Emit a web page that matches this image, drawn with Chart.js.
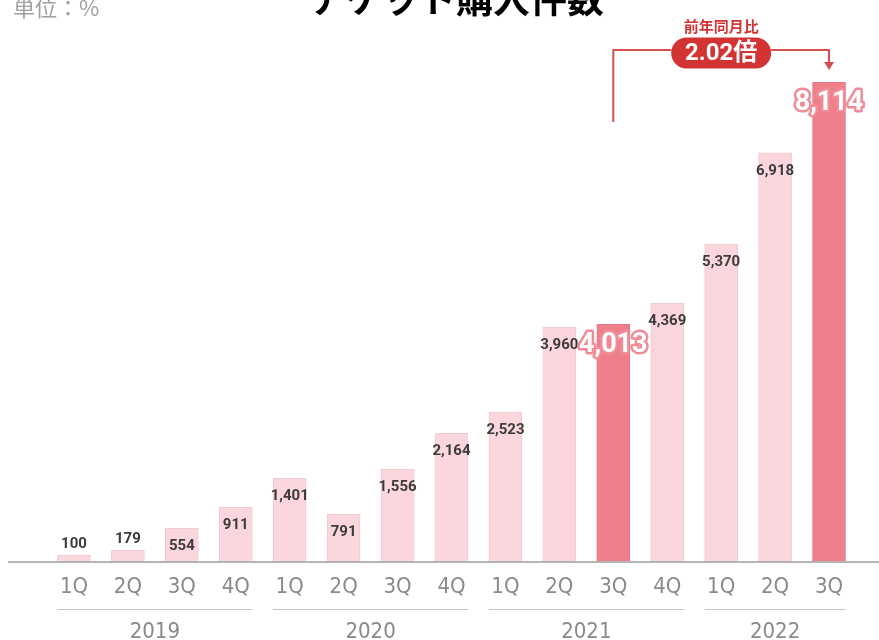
<!DOCTYPE html>
<html lang="ja">
<head>
<meta charset="utf-8">
<title>チケット購入件数</title>
<script src="https://cdn.jsdelivr.net/npm/chart.js@4/dist/chart.umd.min.js"></script>
<style>
  html, body { margin: 0; padding: 0; background: #fff; }
  #chart { display: block; }
</style>
</head>
<body>
<canvas id="chart" width="879" height="640"></canvas>
<script>
// 四半期ごとのチケット購入件数（2019年1Qを100とした指数）
const quarters = ['1Q', '2Q', '3Q', '4Q', '1Q', '2Q', '3Q', '4Q', '1Q', '2Q', '3Q', '4Q', '1Q', '2Q', '3Q'];
const years = ['2019', '2020', '2021', '2022'];
const yearStart = [0, 4, 8, 12];
const yearEnd = [3, 7, 11, 14];
const counts = [100, 179, 554, 911, 1401, 791, 1556, 2164, 2523, 3960, 4013, 4369, 5370, 6918, 8114];
const highlight = [10, 14];
const yoyLabel = '前年同月比';
const yoyValue = '2.02倍';

const LIGHT = 'rgb(251, 214, 221)';
const DARK = 'rgb(239, 127, 139)';
const TICK_FAMILY = '"Liberation Sans Narrow", "DejaVu Sans Condensed", Roboto, sans-serif';
const BAR_W = 33;

function fmt(v) {
    return v.toLocaleString('en-US');
}

// タイトル・単位・基準線・年の区切り・数値ラベル・前年比の矢印
const decorations = {
    id: 'decorations',
    beforeDatasetsDraw(chart) {
        const ctx = chart.ctx;
        const area = chart.chartArea;
        ctx.save();
        ctx.strokeStyle = '#b4b4b4';
        ctx.lineWidth = 2;
        ctx.beginPath();
        ctx.moveTo(8, area.bottom + 1);
        ctx.lineTo(chart.width, area.bottom + 1);
        ctx.stroke();
        ctx.restore();
    },
    afterDatasetsDraw(chart) {
        const ctx = chart.ctx;
        const area = chart.chartArea;
        const xs = chart.scales.x;
        const bars = chart.getDatasetMeta(0).data;

        ctx.save();

        // タイトル（上端で切れている）
        ctx.fillStyle = '#000';
        ctx.font = 'bold 37px "Noto Sans CJK JP", sans-serif';
        ctx.textAlign = 'center';
        ctx.textBaseline = 'alphabetic';
        ctx.fillText('チケット購入件数', 456, 13);

        // 単位
        ctx.fillStyle = '#a0a0a0';
        ctx.font = '22px "Noto Sans CJK JP", sans-serif';
        ctx.textAlign = 'left';
        ctx.textBaseline = 'middle';
        ctx.fillText('単位：%', 13, 8);

        // 年ごとの区切り線と年ラベル
        ctx.strokeStyle = '#c4c4c4';
        ctx.lineWidth = 1;
        ctx.fillStyle = '#8a8a8a';
        ctx.font = '300 22px ' + TICK_FAMILY;
        ctx.textAlign = 'center';
        years.forEach((y, i) => {
            const x0 = xs.getPixelForValue(yearStart[i]) - BAR_W / 2;
            const x1 = xs.getPixelForValue(yearEnd[i]) + BAR_W / 2;
            ctx.beginPath();
            ctx.moveTo(x0, area.bottom + 48.5);
            ctx.lineTo(x1, area.bottom + 48.5);
            ctx.stroke();
            ctx.fillText(y, (x0 + x1) / 2, area.bottom + 71);
        });

        // 数値ラベル
        bars.forEach((bar, i) => {
            const h = bar.base - bar.y;
            ctx.textAlign = 'center';
            ctx.textBaseline = 'middle';
            if (highlight.includes(i)) {
                ctx.font = 'bold 27px Roboto, sans-serif';
                ctx.lineJoin = 'round';
                ctx.lineWidth = 5;
                ctx.strokeStyle = 'rgb(240, 140, 152)';
                ctx.strokeText(fmt(counts[i]), bar.x, bar.y + 21);
                ctx.fillStyle = '#fff';
                ctx.fillText(fmt(counts[i]), bar.x, bar.y + 21);
            } else {
                ctx.font = 'bold 15px Roboto, sans-serif';
                ctx.fillStyle = '#3c3c3c';
                const y = h < 25 ? bar.y - 11 : bar.y + 18;
                ctx.fillText(fmt(counts[i]), bar.x, y);
            }
        });

        // 前年同月比の矢印
        const xa = bars[highlight[0]].x;
        const xb = bars[highlight[1]].x;
        const mid = (xa + xb) / 2;
        const red = 'rgb(210, 52, 52)';
        ctx.strokeStyle = 'rgb(214, 78, 78)';
        ctx.lineWidth = 2;
        ctx.beginPath();
        ctx.moveTo(xa, 122);
        ctx.lineTo(xa, 50);
        ctx.lineTo(mid - 50, 50);
        ctx.moveTo(mid + 50, 50);
        ctx.lineTo(xb, 50);
        ctx.lineTo(xb, 63);
        ctx.stroke();
        ctx.fillStyle = 'rgb(214, 78, 78)';
        ctx.beginPath();
        ctx.moveTo(xb - 5, 62);
        ctx.lineTo(xb + 5, 62);
        ctx.lineTo(xb, 70);
        ctx.closePath();
        ctx.fill();

        ctx.fillStyle = red;
        ctx.beginPath();
        ctx.roundRect(mid - 50, 37.5, 100, 31, 15.5);
        ctx.fill();
        ctx.fillStyle = '#fff';
        ctx.font = 'bold 24px Roboto, "Noto Sans CJK JP", sans-serif';
        ctx.textAlign = 'center';
        ctx.textBaseline = 'middle';
        ctx.fillText(yoyValue, mid, 54);

        ctx.fillStyle = red;
        ctx.font = 'bold 15px "Noto Sans CJK JP", sans-serif';
        ctx.fillText(yoyLabel, mid, 26);

        ctx.restore();
    }
};

const ctx = document.getElementById('chart').getContext('2d');
new Chart(ctx, {
    type: 'bar',
    data: {
        labels: quarters,
        datasets: [{
            data: counts,
            backgroundColor: counts.map((v, i) => highlight.includes(i) ? DARK : LIGHT),
            borderColor: counts.map((v, i) => highlight.includes(i) ? 'rgb(232, 118, 130)' : 'rgb(240, 202, 209)'),
            borderWidth: { top: 1, left: 1, right: 1, bottom: 0 },
            barThickness: BAR_W
        }]
    },
    options: {
        responsive: false,
        animation: false,
        devicePixelRatio: 1,
        layout: { padding: { left: 47, right: 23, top: 40, bottom: 0 } },
        plugins: {
            legend: { display: false },
            tooltip: { enabled: false }
        },
        scales: {
            x: {
                grid: { display: false, drawTicks: false },
                border: { display: false },
                ticks: {
                    color: '#8a8a8a',
                    padding: 13,
                    font: { family: TICK_FAMILY, size: 22, weight: '300' }
                },
                afterFit(scale) { scale.height = 79; }
            },
            y: {
                display: false,
                min: 0,
                max: 8830
            }
        }
    },
    plugins: [decorations]
});
</script>
</body>
</html>
